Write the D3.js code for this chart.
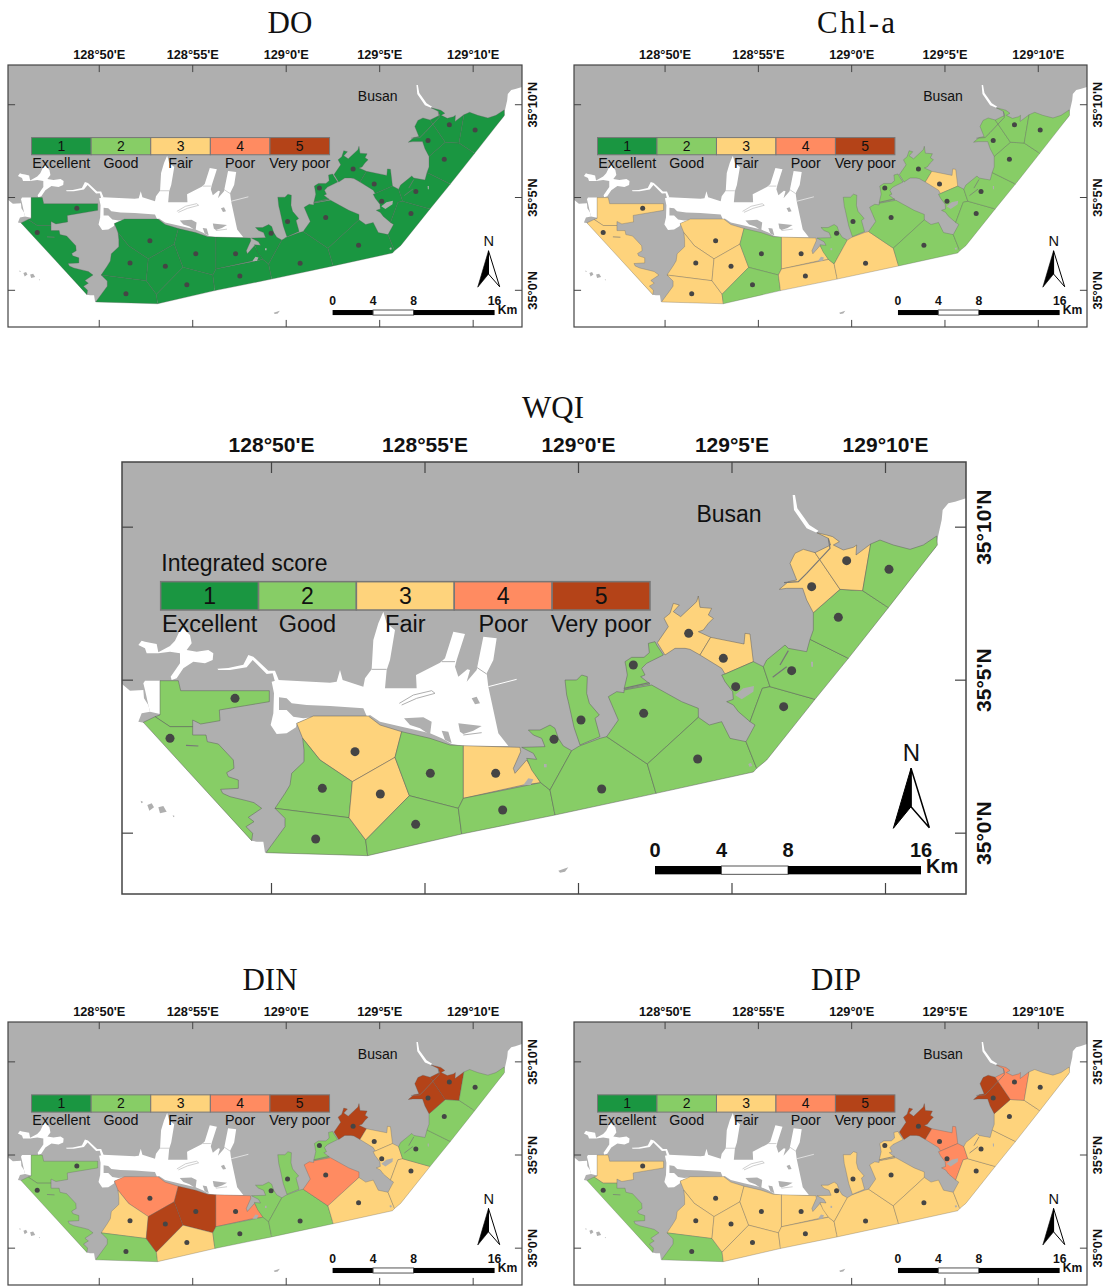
<!DOCTYPE html>
<html>
<head>
<meta charset="utf-8">
<script src="https://cdn.jsdelivr.net/npm/d3@7"></script>
<style>
  html, body { margin: 0; padding: 0; background: #fff; }
  svg { display: block; }
  text { font-family: "Liberation Sans", Arial, sans-serif; fill: #111; }
  .title { font-family: "Liberation Serif", serif; }
</style>
</head>
<body>
<div id="chart"></div>
<script>
/**
 * DATA
 * shapes were digitised off the WQI map, in sheet units (x 6-2538, y 6-1302)
 */
var gradeNums = [1, 2, 3, 4, 5];
var gradeNames = ['Excellent', 'Good', 'Fair', 'Poor', 'Very poor'];
var gradeColors = ['#1a9641', '#87cd66', '#fed37c', '#ff8b61', '#b44318'];

// one score per zone, same order as zoneOutlines
var scoreDO  = [1,1,1,1,1,1,1,1,1,1,1,1,1,1,1,1,1,1,1,1,1,1,1,1,1];
var scoreChl = [3,3,3,3,3,3,2,2,3,3,2,3,2,2,2,2,2,3,2,2,2,2,2,2,2];
var scoreWQI = [2,2,3,2,2,3,2,2,3,2,2,2,2,2,2,2,3,3,2,2,2,2,3,3,2];
var scoreDIN = [2,2,4,3,2,5,5,3,4,2,2,2,2,4,3,2,5,3,3,3,2,2,5,5,2];
var scoreDIP = [3,2,3,3,2,3,3,3,3,3,3,3,3,3,3,3,5,4,4,3,3,3,5,4,3];

var zoneOutlines = [
  [[120,662],[175,662],[182,692],[448,692],[448,725],[298,750],[300,782],[242,792],[218,780],[218,800],[150,800],[105,770],[120,765]],
  [[70,787],[105,770],[150,800],[218,800],[218,825],[258,825],[262,845],[295,852],[340,900],[342,925],[320,938],[325,950],[355,960],[355,985],[302,988],[308,1000],[330,1010],[380,1022],[402,1028],[425,1045],[385,1072],[402,1085],[378,1100],[398,1120],[395,1142]],
  [[530,790],[580,768],[745,768],[780,795],[845,815],[825,892],[697,965],[600,900],[548,835]],
  [[548,835],[600,900],[697,965],[687,1073],[465,1045],[495,1000],[510,975],[515,940],[552,905],[552,870]],
  [[465,1045],[687,1073],[737,1140],[743,1187],[438,1178],[495,1100],[495,1075]],
  [[697,965],[825,892],[868,1007],[737,1140],[687,1073]],
  [[845,815],[930,835],[990,855],[1030,857],[1030,1015],[1015,1045],[868,1007],[825,892]],
  [[868,1007],[1015,1045],[1025,1122],[743,1187],[737,1140]],
  [[1030,857],[1200,862],[1202,875],[1180,925],[1185,940],[1220,900],[1262,968],[1210,975],[1030,1015]],
  [[1030,1015],[1262,968],[1290,990],[1305,1065],[1025,1122],[1015,1045]],
  [[1205,862],[1275,860],[1265,835],[1240,825],[1225,810],[1260,810],[1290,795],[1305,805],[1315,835],[1330,858],[1355,872],[1290,990],[1262,968],[1235,930],[1220,895],[1250,898],[1240,880]],
  [[1355,872],[1378,858],[1440,835],[1460,830],[1582,912],[1608,1000],[1305,1065],[1290,990]],
  [[1335,660],[1370,660],[1385,645],[1402,650],[1400,700],[1408,730],[1438,765],[1425,775],[1440,830],[1380,855],[1362,802],[1345,725],[1340,705]],
  [[1460,830],[1495,780],[1480,745],[1465,710],[1490,695],[1512,698],[1512,690],[1595,675],[1685,725],[1735,745],[1735,772],[1582,912]],
  [[1582,912],[1735,772],[1768,795],[1805,785],[1830,835],[1878,845],[1910,925],[1900,936],[1608,1000]],
  [[1515,605],[1535,592],[1572,592],[1588,578],[1585,550],[1605,545],[1612,558],[1630,585],[1580,610],[1565,625],[1575,645],[1562,650],[1590,672],[1512,688],[1522,645],[1518,620]],
  [[1612,548],[1645,500],[1632,475],[1650,460],[1660,430],[1678,435],[1660,455],[1682,470],[1730,425],[1735,408],[1740,442],[1775,445],[1765,465],[1780,475],[1765,490],[1750,510],[1735,515],[1772,532],[1740,585],[1710,568],[1695,565],[1665,565],[1635,585]],
  [[1772,532],[1872,552],[1875,520],[1890,522],[1900,605],[1815,642],[1805,625],[1740,585]],
  [[1805,645],[1815,642],[1900,605],[1930,620],[1950,680],[1927,685],[1890,785],[1855,755],[1840,735],[1820,725],[1840,718],[1838,695],[1815,665]],
  [[1927,685],[1950,680],[2085,718],[1940,900],[1910,925],[1878,845],[1905,795],[1890,785]],
  [[1930,620],[1940,600],[1995,555],[2005,565],[2060,575],[2070,538],[2185,595],[2085,718],[1950,680]],
  [[2070,538],[2080,510],[2080,458],[2160,388],[2228,392],[2305,443],[2185,595]],
  [[1978,388],[2005,365],[2030,360],[2010,310],[2025,280],[2050,268],[2085,278],[2160,388],[2080,458],[2060,420],[2048,385],[2000,385]],
  [[2090,218],[2120,225],[2138,230],[2158,245],[2140,255],[2170,270],[2200,262],[2210,255],[2208,285],[2252,252],[2228,392],[2160,388],[2085,278],[2132,255],[2125,235]],
  [[2252,252],[2280,240],[2320,255],[2370,268],[2410,255],[2450,228],[2452,255],[2305,443],[2228,392]]
];

var stations = [[345,715],[150,835],[705,875],[607,985],[587,1137],[781,1002],[931,940],[887,1093],[1127,940],[1148,1050],[1302,838],[1445,987],[1383,780],[1571,760],[1733,897],[1540,615],[1706,520],[1810,595],[1847,680],[1991,740],[2015,632],[2155,472],[2075,380],[2180,302],[2307,328]];

var landOutline = [[6,6],[2538,6],[2538,115],[2505,125],[2485,130],[2468,150],[2465,180],[2455,225],[2448,262],[2290,440],[2180,590],[2080,712],[1938,890],[1905,915],[1610,985],[1305,1050],[1025,1108],[745,1172],[470,1165],[435,1178],[430,1145],[410,1145],[395,1142],[80,790],[55,785],[65,760],[90,755],[85,735],[72,715],[70,690],[30,692],[6,672]];

var waterOutlines = [
  [[75,662],[120,662],[120,762],[90,755],[85,735],[75,690],[70,670]],
  [[55,555],[65,542],[75,545],[90,548],[110,552],[115,577],[150,558],[165,542],[185,500],[210,525],[215,550],[200,570],[230,575],[265,570],[280,580],[278,600],[255,610],[220,605],[190,625],[170,655],[155,660],[152,650],[180,610],[180,580],[150,575],[115,580],[80,580],[75,565]],
  [[292,626],[325,624],[370,614],[385,585],[400,590],[445,632],[465,632],[477,662],[465,665],[458,640],[440,642],[398,600],[380,622],[330,630],[295,630]],
  [[475,660],[630,668],[650,665],[660,630],[668,660],[730,680],[735,655],[755,628],[760,540],[775,490],[790,455],[800,490],[825,510],[810,600],[800,630],[795,685],[890,685],[888,645],[960,608],[975,595],[1000,515],[1035,522],[1010,600],[1005,620],[1015,650],[1042,628],[1050,630],[1040,665],[1070,630],[1090,530],[1130,535],[1120,600],[1100,640],[1105,680],[1135,820],[1165,858],[1135,858],[1030,858],[995,852],[965,835],[930,820],[845,800],[780,785],[750,765],[740,770],[580,770],[530,790],[528,802],[500,820],[470,822],[452,795],[460,760],[462,700],[455,665]],
  [[2018,105],[2025,105],[2032,145],[2068,195],[2095,212],[2090,218],[2060,205],[2022,150]]
];

var harbourLand = [
  [[477,712],[500,715],[515,730],[560,735],[630,738],[730,745],[740,768],[590,770],[550,775],[520,770],[500,750],[477,750]],
  [[1055,715],[1070,710],[1080,730],[1065,733]],
  [[852,775],[910,772],[935,785],[930,825],[900,805],[870,795]],
  [[965,812],[985,815],[995,850],[975,840]],
  [[1015,790],[1085,798],[1060,812],[1030,822],[1020,815]],
  // islets off the coast
  [[82,1035],[95,1030],[102,1042],[88,1052]],
  [[115,1042],[130,1038],[140,1055],[120,1060]],
  [[62,1022],[70,1026],[64,1030]],
  [[158,1066],[164,1068],[160,1072]],
  [[1315,1232],[1345,1222],[1335,1235],[1320,1238]]
];

// land showing through the zones
var zoneIslands = [
  [[1845,705],[1870,685],[1902,678],[1900,695],[1865,718]],
  [[1210,975],[1225,955],[1240,958],[1232,975]],
  [[1272,912],[1280,912],[1280,922],[1272,922]],
  [[1885,912],[1893,908],[1897,918],[1888,920]],
  [[2073,605],[2079,605],[2079,620],[2074,620]]
];
var zoneChannels = [
  [[198,856],[235,858]],
  [[1958,652],[2000,620]],
  [[1980,615],[2005,572]],
  [[1992,368],[2035,365],[2060,340],[2130,265],[2125,235]],
  [[1512,685],[1588,668]]
];
var harbourLines = [
  [[755,628],[800,628]],
  [[965,605],[1005,605]],
  [[1070,622],[1100,642]],
  [[1030,825],[1085,818]],
  [[838,730],[880,705],[935,692],[945,700],[890,715],[845,735]]
];
var breakwater = [[1105,680],[1190,658]];

var lonTicks = [128 + 50 / 60, 128 + 55 / 60, 129, 129 + 5 / 60, 129 + 10 / 60];
var lonLabels = ["128°50'E", "128°55'E", "129°0'E", "129°5'E", "129°10'E"];
var latTicks = [35, 35 + 5 / 60, 35 + 10 / 60];
var latLabels = ["35°0'N", "35°5'N", "35°10'N"];
var scaleKm = [0, 4, 8, 16];

/**
 * SET UP
 */
var width = 1106;
var height = 1287;
var landColor = '#afafaf';
var fillColor = d3.scaleOrdinal().domain(gradeNums).range(gradeColors);

var svg = d3.select('#chart').append('svg')
  .attr('width', width)
  .attr('height', height);

drawPanel({ title: 'DO',    scores: scoreDO,  x: 8,   y: 65,   w: 514, h: 262, titleX: 290, titleY: 33 });
drawPanel({ title: 'Chl-a', scores: scoreChl, x: 574, y: 65,   w: 513, h: 262, titleX: 856, titleY: 33, titleLen: 78 });
drawPanel({ title: 'WQI',   scores: scoreWQI, x: 122, y: 462,  w: 844, h: 432, titleX: 553, titleY: 418, legendTitle: 'Integrated score' });
drawPanel({ title: 'DIN',   scores: scoreDIN, x: 8,   y: 1022, w: 514, h: 263, titleX: 270, titleY: 990 });
drawPanel({ title: 'DIP',   scores: scoreDIP, x: 574, y: 1022, w: 513, h: 263, titleX: 836, titleY: 990 });

function drawPanel(p) {
  var k = p.w / 844; // text and ticks follow the panel size
  var big = k > 0.9;

  var xMap = d3.scaleLinear().domain([6, 2538]).range([p.x, p.x + p.w]);
  var yMap = d3.scaleLinear().domain([6, 1302]).range([p.y, p.y + p.h]);

  var outline = d3.line()
    .x(function (d) { return xMap(d[0]); })
    .y(function (d) { return yMap(d[1]); });
  var closed = function (d) { return outline(d) + 'Z'; };

  var g = svg.append('g');

  var title = g.append('text')
    .attr('class', 'title')
    .attr('x', p.titleX)
    .attr('y', p.titleY)
    .attr('text-anchor', 'middle')
    .style('font-size', '31px')
    .text(p.title);
  if (p.titleLen) title.attr('textLength', p.titleLen);

  g.append('path').attr('d', closed(landOutline)).attr('fill', landColor);

  g.selectAll('.water').data(waterOutlines).enter().append('path')
    .attr('class', 'water')
    .attr('d', closed)
    .attr('fill', '#fff');

  g.selectAll('.hland').data(harbourLand).enter().append('path')
    .attr('class', 'hland')
    .attr('d', closed)
    .attr('fill', landColor);

  g.selectAll('.hline').data(harbourLines).enter().append('path')
    .attr('class', 'hline')
    .attr('d', outline)
    .attr('fill', 'none')
    .attr('stroke', landColor)
    .attr('stroke-width', big ? 1 : 0.6);

  g.append('path')
    .attr('d', outline(breakwater))
    .attr('fill', 'none')
    .attr('stroke', '#fff')
    .attr('stroke-width', big ? 1 : 0.6);

  g.selectAll('.zone').data(zoneOutlines).enter().append('path')
    .attr('class', 'zone')
    .attr('d', closed)
    .attr('fill', function (d, i) { return fillColor(p.scores[i]); })
    .attr('stroke', '#5a5a5a')
    .attr('stroke-opacity', 0.6)
    .attr('stroke-width', big ? 0.8 : 0.5)
    .attr('stroke-linejoin', 'round');

  g.selectAll('.islet').data(zoneIslands).enter().append('path')
    .attr('class', 'islet')
    .attr('d', closed)
    .attr('fill', landColor);

  g.selectAll('.channel').data(zoneChannels).enter().append('path')
    .attr('class', 'channel')
    .attr('d', outline)
    .attr('fill', 'none')
    .attr('stroke', '#777')
    .attr('stroke-width', big ? 1.2 : 0.7);

  g.selectAll('.station').data(stations).enter().append('circle')
    .attr('class', 'station')
    .attr('cx', function (d) { return xMap(d[0]); })
    .attr('cy', function (d) { return yMap(d[1]); })
    .attr('r', big ? 4.5 : 2.5)
    .attr('fill', '#454545');

  drawLegend(g, p, k, xMap, yMap);
  drawGraticule(g, p, k, xMap, yMap);
  drawCompass(g, k, xMap, yMap);
  drawScaleBar(g, k, xMap, yMap);

  g.append('text')
    .attr('x', xMap(1827))
    .attr('y', yMap(186))
    .attr('text-anchor', 'middle')
    .style('font-size', 23 * k + 'px')
    .text('Busan');
}

function drawLegend(g, p, k, xMap, yMap) {
  var band = d3.scaleBand().domain(gradeNums).range([xMap(122), xMap(1590)]);
  var top = yMap(365);
  var bottom = yMap(450);

  var cell = g.selectAll('.cell').data(gradeNums).enter().append('g').attr('class', 'cell');

  cell.append('rect')
    .attr('x', function (d) { return band(d); })
    .attr('y', top)
    .attr('width', band.bandwidth())
    .attr('height', bottom - top)
    .attr('fill', function (d) { return fillColor(d); })
    .attr('stroke', '#777')
    .attr('stroke-width', k > 0.9 ? 1.5 : 1);

  cell.append('text')
    .attr('x', function (d) { return band(d) + band.bandwidth() / 2; })
    .attr('y', yMap(432))
    .attr('text-anchor', 'middle')
    .style('font-size', 23 * k + 'px')
    .text(function (d) { return d; });

  cell.append('text')
    .attr('x', function (d) { return band(d) + band.bandwidth() / 2; })
    .attr('y', yMap(516))
    .attr('text-anchor', 'middle')
    .style('font-size', 23.5 * k + 'px')
    .text(function (d, i) { return gradeNames[i]; });

  if (p.legendTitle) {
    g.append('text')
      .attr('x', xMap(124))
      .attr('y', yMap(332))
      .style('font-size', 23 * k + 'px')
      .text(p.legendTitle);
  }
}

function drawGraticule(g, p, k, xMap, yMap) {
  var lonScale = d3.scaleLinear()
    .domain([lonTicks[0], lonTicks[lonTicks.length - 1]])
    .range([xMap(453), xMap(2295)]);
  var latScale = d3.scaleLinear()
    .domain([latTicks[0], latTicks[latTicks.length - 1]])
    .range([yMap(1118), yMap(200)]);

  var tickLen = 10 * k + 1;

  var axes = [
    { axis: d3.axisTop(lonScale).tickValues(lonTicks).tickFormat(function (d, i) { return lonLabels[i]; }), at: [0, p.y] },
    { axis: d3.axisBottom(lonScale).tickValues(lonTicks).tickFormat(''), at: [0, p.y + p.h] },
    { axis: d3.axisLeft(latScale).tickValues(latTicks).tickFormat(''), at: [p.x, 0] },
    { axis: d3.axisRight(latScale).tickValues(latTicks).tickFormat(function (d, i) { return latLabels[i]; }), at: [p.x + p.w, 0] }
  ];

  axes.forEach(function (a) {
    var ag = g.append('g')
      .attr('transform', 'translate(' + a.at[0] + ',' + a.at[1] + ')')
      .call(a.axis.tickSizeOuter(0).tickSizeInner(-tickLen).tickPadding(9 * k + 1));
    ag.select('.domain').remove();
    ag.selectAll('line').attr('stroke', '#444').attr('stroke-width', k > 0.9 ? 1.2 : 1);
    ag.selectAll('text')
      .style('font-family', '"Liberation Sans", Arial, sans-serif')
      .style('font-size', 21 * k + 'px')
      .style('font-weight', 'bold')
      .attr('fill', '#111');
  });

  // latitude labels read bottom to top
  g.selectAll('.tick text')
    .filter(function () { return d3.select(this).text().slice(-1) === 'N'; })
    .attr('transform', 'rotate(-90)')
    .attr('x', 0)
    .attr('y', 25 * k)
    .attr('dy', 0)
    .attr('text-anchor', 'middle');

  g.append('rect')
    .attr('x', p.x)
    .attr('y', p.y)
    .attr('width', p.w)
    .attr('height', p.h)
    .attr('fill', 'none')
    .attr('stroke', '#444')
    .attr('stroke-width', k > 0.9 ? 1.5 : 1.2);
}

function drawCompass(g, k, xMap, yMap) {
  var line = d3.line()
    .x(function (d) { return xMap(d[0]); })
    .y(function (d) { return yMap(d[1]); });

  g.append('path')
    .attr('d', line([[2373, 925], [2428, 1103], [2373, 1040]]) + 'Z')
    .attr('fill', '#fff')
    .attr('stroke', '#000')
    .attr('stroke-width', k > 0.9 ? 1.5 : 1);

  g.append('path')
    .attr('d', line([[2373, 925], [2320, 1105], [2373, 1040]]) + 'Z')
    .attr('fill', '#000')
    .attr('stroke', '#000')
    .attr('stroke-width', k > 0.9 ? 1 : 0.6);

  g.append('text')
    .attr('x', xMap(2374))
    .attr('y', yMap(903))
    .attr('text-anchor', 'middle')
    .style('font-size', 24 * k + 'px')
    .text('N');
}

function drawScaleBar(g, k, xMap, yMap) {
  var km = d3.scaleLinear().domain([0, 16]).range([xMap(1605), xMap(2403)]);
  var top = yMap(1218);
  var bottom = yMap(1243);

  d3.pairs(scaleKm).forEach(function (pair, i) {
    g.append('rect')
      .attr('x', km(pair[0]))
      .attr('y', top)
      .attr('width', km(pair[1]) - km(pair[0]))
      .attr('height', bottom - top)
      .attr('fill', i === 1 ? '#fff' : '#000')
      .attr('stroke', i === 1 ? '#555' : 'none')
      .attr('stroke-width', 1);
  });

  g.selectAll('.kmlabel').data(scaleKm).enter().append('text')
    .attr('class', 'kmlabel')
    .attr('x', function (d) { return km(d); })
    .attr('y', yMap(1192))
    .attr('text-anchor', 'middle')
    .style('font-size', 20 * k + 'px')
    .style('font-weight', 'bold')
    .text(function (d) { return d; });

  g.append('text')
    .attr('x', xMap(2418))
    .attr('y', yMap(1240))
    .style('font-size', 20 * k + 'px')
    .style('font-weight', 'bold')
    .text('Km');
}
</script>
</body>
</html>
